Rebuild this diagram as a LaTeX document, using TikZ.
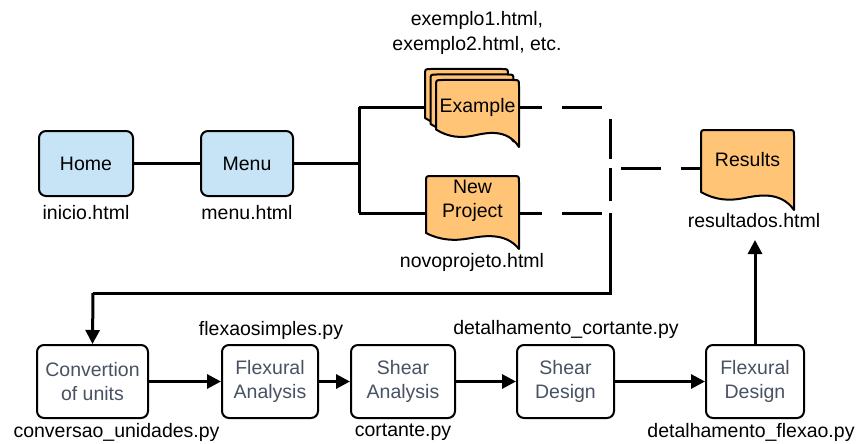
\documentclass[tikz,border=0pt]{standalone}
\usepackage{fontspec}
\setmainfont{Liberation Sans}
\usetikzlibrary{arrows.meta}

\definecolor{pageblue}{RGB}{198,228,246}
\definecolor{docorange}{RGB}{255,196,118}
\definecolor{stepgray}{RGB}{72,82,98}

% document shape: left x, top y, right x, bottom-left y, bottom-right y
\newcommand{\docshape}[5]{%
  \pgfmathsetmacro\docw{#3-#1}%
  \pgfmathsetmacro\docd{#5-#4}%
  \filldraw[docline] (#1,#4) -- (#1,#2+6) .. controls (#1,#2) .. (#1+6,#2)
    -- (#3-6,#2) .. controls (#3,#2) .. (#3,#2+6) -- (#3,#5)
    .. controls (#1+0.85*\docw,#4-0.1*\docd) and (#1+0.6*\docw,#4+0.2*\docd) .. (#1+0.45*\docw,#4+0.35*\docd)
    .. controls (#1+0.3*\docw,#4+0.5*\docd) and (#1+0.15*\docw,#4+0.45*\docd) .. (#1,#4) -- cycle;}

\begin{document}
\begin{tikzpicture}[x=1pt,y=-1pt,
  every node/.style={font=\fontsize{19.5}{24.5}\selectfont, inner sep=0pt},
  pagebox/.style={draw, line width=2pt, rounded corners=7pt, fill=pageblue,
    minimum height=65pt},
  stepbox/.style={draw, line width=2pt, rounded corners=7pt, fill=white,
    text=stepgray, align=center, minimum height=73pt},
  docline/.style={draw=black, line width=2pt, fill=docorange, line join=round},
  filelabel/.style={align=center},
  link/.style={line width=3pt},
  flow/.style={line width=3pt, -{Triangle[length=14pt,width=14pt]}},
  maybe/.style={line width=3pt, dash pattern=on 40pt off 20pt, dash phase=17pt}]

\useasboundingbox (0,0) rectangle (857,444);

% web pages
\node[pagebox, minimum width=94pt] (home) at (86,163.5) {Home};
\node[pagebox, minimum width=92pt] (menu) at (247,163.5) {Menu};
\node[filelabel] (homefile) at (86,213) {inicio.html};
\node[filelabel] (menufile) at (247,213) {menu.html};

% branching points
\coordinate (split) at (359,163.5);
\coordinate (splitup) at (359,107);
\coordinate (splitdown) at (359,213);
\coordinate (exin) at (436,107);
\coordinate (npin) at (426,213);
\coordinate (exout) at (519,107);
\coordinate (npout) at (519,213);
\coordinate (joinup) at (610,107);
\coordinate (joinmid) at (610,168);
\coordinate (joindown) at (610,213);
\coordinate (back) at (610,293);
\coordinate (backleft) at (93,293);
\coordinate (resin) at (701,168);

\draw[link] (home) -- (menu);
\draw[link] (menu) -- (split);
\draw[link] (splitup) -- (splitdown);
\draw[link] (splitup) -- (exin);
\draw[link] (splitdown) -- (npin);
\draw[maybe] (exout) -- (joinup) -- (joinmid) -- (resin);
\draw[maybe] (npout) -- (joindown) -- (joinmid);

% example pages (stacked documents)
\docshape{425}{69}{508}{118}{136}
\docshape{430.5}{74.5}{513.5}{124}{141.5}
\docshape{436}{80}{519}{129.5}{147}
\node (example) at (477.5,107) {Example};
\node[filelabel] (examplefiles) at (477,33) {exemplo1.html,\\exemplo2.html, etc.};

% new project page
\docshape{426}{176}{519}{233}{249}
\node[align=center] (newproj) at (472.5,201) {New\\Project};
\node[filelabel] (newprojfile) at (472,262) {novoprojeto.html};

% results page
\docshape{701}{130}{794}{192}{210}
\node (results) at (747.5,160) {Results};
\node[filelabel] (resultsfile) at (754,221) {resultados.html};
\coordinate (resultsin) at (755,240);

% calculation steps
\node[stepbox, minimum width=111pt] (units) at (92.5,381.5) {Convertion\\of units};
\node[stepbox, minimum width=96pt] (flexa) at (270,381.5) {Flexural\\Analysis};
\node[stepbox, minimum width=104pt] (sheara) at (403,381.5) {Shear\\Analysis};
\node[stepbox, minimum width=97pt] (sheard) at (565.5,381.5) {Shear\\Design};
\node[stepbox, minimum width=98pt] (flexd) at (755,381.5) {Flexural\\Design};

\node[filelabel] (unitsfile) at (116.5,432) {conversao\_unidades.py};
\node[filelabel] (flexafile) at (271,330) {flexaosimples.py};
\node[filelabel] (shearafile) at (403,432) {cortante.py};
\node[filelabel] (sheardfile) at (566,329) {detalhamento\_cortante.py};
\node[filelabel] (flexdfile) at (751,432) {detalhamento\_flexao.py};

\draw[link] (joindown) -- (back) -- (backleft);
\draw[flow] (backleft) -- (units.north);
\draw[flow] (units) -- (flexa);
\draw[flow] (flexa) -- (sheara);
\draw[flow] (sheara) -- (sheard);
\draw[flow] (sheard) -- (flexd);
\draw[flow] (flexd.north) -- (resultsin);

\end{tikzpicture}
\end{document}
